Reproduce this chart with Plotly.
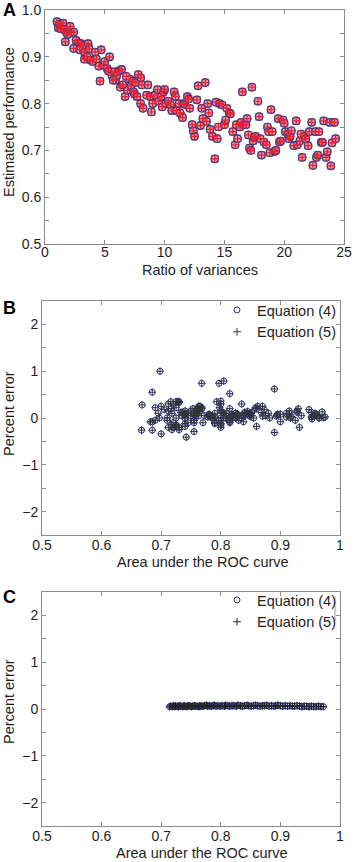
import plotly.graph_objects as go

# ---------------- Panel A data: ratio of variances vs estimated performance
ratio = [
    1.0, 1.1, 1.2, 1.4, 1.5, 1.3, 1.6, 1.8, 2.0, 2.1, 2.2, 1.9, 2.4, 1.7, 2.4,
    2.6, 2.8, 3.0, 3.2, 2.9, 3.3, 3.6, 3.7, 3.3, 3.5, 3.8, 4.0, 4.2, 4.3,
    4.5, 4.7, 4.6, 4.9, 5.0, 5.2, 5.4, 5.3, 5.6, 5.8, 5.9, 6.0, 5.7, 6.2, 6.3,
    6.4, 6.5, 6.7, 6.8, 6.9, 7.1, 7.2, 7.3, 7.4, 7.5, 7.6, 7.7, 7.8, 8.0, 8.1,
    8.0, 8.2, 8.5, 8.6, 8.8, 8.9, 9.0, 9.2, 9.4, 9.5, 9.7, 9.9, 10.0, 9.8, 10.1,
    10.3, 10.5, 10.6, 10.8, 10.9, 11.0, 11.2, 11.3, 11.5, 11.6, 11.7, 11.9, 12.0, 12.1, 12.3,
    12.4, 12.5, 12.7, 12.8, 13.0, 13.1, 13.2, 13.4, 13.5, 13.6, 13.7, 13.8, 14.0, 14.2, 14.3,
    14.4, 14.5, 14.6, 14.8, 15.0, 15.1, 15.2, 15.4, 15.5, 15.7, 15.9, 16.0, 16.1, 16.3, 16.4,
    16.5, 16.6, 16.8, 16.9, 17.0, 17.1, 17.2, 17.3, 17.4, 17.5, 17.6, 17.8, 17.9, 18.0, 18.1,
    18.3, 18.5, 18.6, 18.7, 18.8, 18.9, 19.0, 19.2, 19.3, 19.5, 19.6, 19.7, 19.9, 20.0, 20.1,
    20.3, 20.4, 20.5, 20.6, 20.8, 21.0, 21.1, 21.3, 21.4, 21.5, 21.7, 21.8, 22.0, 22.1, 22.3,
    22.4, 22.6, 22.7, 22.8, 22.9, 23.1, 23.2, 23.3, 23.5, 23.6, 23.8, 23.9, 24.0, 24.2, 24.3,
]
perf = [
    .975, .962, .970, .965, .972, .960, .958, .952, .955, .965, .952, .948, .953, .932, .918,
    .935, .930, .928, .925, .915, .910, .928, .917, .895, .900, .893, .890, .910, .895,
    .880, .915, .848, .882, .890, .875, .900, .870, .860, .868, .850, .860, .850, .870, .835,
    .873, .840, .815, .858, .828, .852, .838, .848, .825, .820, .845, .815, .862, .855, .840,
    .800, .790, .818, .840, .815, .782, .800, .818, .830, .805, .815, .825, .830, .793, .800,
    .805, .797, .785, .825, .815, .785, .800, .780, .770, .800, .798, .815, .810, .790, .755,
    .742, .730, .808, .838, .753, .790, .768, .845, .762, .800, .780, .745, .730, .682, .803,
    .725, .750, .800, .797, .755, .765, .790, .780, .778, .740, .712, .755, .725, .750, .760,
    .825, .755, .755, .768, .733, .705, .700, .835, .720, .728, .730, .805, .772, .725, .690,
    .718, .712, .750, .740, .695, .787, .740, .698, .700, .768, .718, .720, .765, .758, .740,
    .735, .725, .730, .742, .710, .763, .712, .720, .735, .685, .730, .725, .710, .740, .760,
    .668, .740, .685, .690, .740, .717, .717, .763, .685, .697, .760, .667, .716, .760, .725,
]

# ---------------- Panel B data: percent error vs AUC (AUC = estimated performance)
err_b = [
    .02, .05, .13, 0, .01, .08, .10, .02, .04, 0, .12, .18, -.02, -.20, .03,
    .05, .20, .15, -.05, .10, .02, .12, 0, .08, -.08, .04, -.31, .10, .06,
    .10, .15, .05, 0, .62, .05, .08, .04, -.18, .12, .03, .20, .10, .25, 0,
    .18, .05, -.05, .22, .08, .12, -.08, .10, .02, .06, .14, -.10, .25, 0, .10,
    .15, -.12, .03, .12, .52, .05, -.20, .08, -.05, 0, .20, .10, .06, .35, -.15,
    .79, .74, 0, .10, -.08, .05, -.12, .08, -.10, .36, .22, 0, .10, .02, -.05,
    -.41, -.20, 0, .05, .20, .10, .74, .10, .18, 0, .05, -.10, -.25, -.08, .12,
    -.15, .10, .30, -.05, -.29, .25, -.10, .06, .02, .15, .30, -.10, 0, .05, .20,
    0, .08, -.05, .22, .12, .18, -.34, .30, -.20, .35, .35, .10, .05, -.18, .22,
    -.25, -.20, .15, 0, .10, 0, -.12, 1.0, .25, .20, .10, .30, .15, .05, .08,
    .05, -.15, .33, .10, 0, .25, .15, -.10, .12, -.26, -.20, .35, -.05, 0, .10,
    .28, -.18, .55, -.05, .08, .20, -.15, .05, -.08, 0, .10, -.26, .35, .18, .22,
]

# ---------------- Panel C data: percent error vs AUC
auc_c = [
    .714, .716, .719, .721, .723, .724, .727, .729, .731, .733, .736, .738, .739, .742,
    .744, .746, .749, .751, .753, .756, .757, .760, .763, .765, .767, .770, .773, .776,
    .778, .781, .784, .787, .789, .792, .795, .799, .802, .806, .808, .812, .815, .819,
    .822, .826, .829, .833, .836, .840, .844, .847, .851, .855, .858, .862, .866, .870,
    .873, .877, .881, .885, .889, .892, .896, .900, .904, .908, .912, .916, .920, .924,
    .928, .932, .936, .940, .944, .948, .952, .956, .960, .964, .968, .972,
]
err_c = [
    .05, .06, .05, .07, .05, .06, .06, .05, .07, .06, .05, .06, .07, .05,
    .06, .07, .06, .05, .06, .07, .06, .06, .05, .07, .06, .06, .07, .08,
    .06, .07, .06, .07, .08, .06, .07, .06, .07, .06, .08, .07, .06, .07,
    .07, .06, .08, .07, .06, .07, .08, .07, .06, .07, .08, .07, .06, .07,
    .07, .08, .06, .07, .06, .07, .08, .07, .06, .07, .06, .07, .06, .06,
    .07, .06, .05, .06, .06, .05, .06, .05, .05, .06, .05, .05,
]

W, H = 355, 862
NAVY = "#2e2e8c"
RED = "#e8202a"
AXC = "#8c8c8c"
TXT = "#1e1e1e"
FONT = "Liberation Sans, Arial, sans-serif"
TICK_FS = 14
TITLE_FS = 14.5


def xd(l, r):
    return [l / W, r / W]


def yd(top, bot):
    return [1 - bot / H, 1 - top / H]


fig = go.Figure()

# Panel A
fig.add_trace(go.Scatter(x=ratio, y=perf, mode="markers", xaxis="x", yaxis="y", showlegend=False,
                         marker=dict(symbol="square-open", size=7, color="#8a8a8a", line=dict(width=1))))
fig.add_trace(go.Scatter(x=ratio, y=perf, mode="markers", xaxis="x", yaxis="y", showlegend=False,
                         marker=dict(symbol="circle", size=7.5, color="rgba(245,120,135,0.75)",
                                     line=dict(width=1.2, color=NAVY))))
fig.add_trace(go.Scatter(x=ratio, y=perf, mode="markers", xaxis="x", yaxis="y", showlegend=False,
                         marker=dict(symbol="cross-thin-open", size=6, color=RED, line=dict(width=1.2, color=RED))))

# Panel B
fig.add_trace(go.Scatter(x=perf, y=err_b, mode="markers", xaxis="x2", yaxis="y2", name="Equation (4)",
                         legend="legend",
                         marker=dict(symbol="circle-open", size=6, color=NAVY, line=dict(width=1, color=NAVY))))
fig.add_trace(go.Scatter(x=perf, y=err_b, mode="markers", xaxis="x2", yaxis="y2", name="Equation (5)",
                         legend="legend",
                         marker=dict(symbol="cross-thin-open", size=5.5, color="#333333",
                                     line=dict(width=1, color="#333333"))))

# Panel C
fig.add_trace(go.Scatter(x=auc_c, y=err_c, mode="markers", xaxis="x3", yaxis="y3", name="Equation (4)",
                         legend="legend2",
                         marker=dict(symbol="circle-open", size=6, color=NAVY, line=dict(width=1, color=NAVY))))
fig.add_trace(go.Scatter(x=auc_c, y=err_c, mode="markers", xaxis="x3", yaxis="y3", name="Equation (5)",
                         legend="legend2",
                         marker=dict(symbol="cross-thin-open", size=5.5, color="#222222",
                                     line=dict(width=1, color="#222222"))))

axis_common = dict(showline=True, mirror="ticks", linecolor=AXC, linewidth=1,
                   ticks="inside", ticklen=4, tickcolor=AXC, showgrid=False, zeroline=False,
                   ticklabeloverflow="allow", automargin=False,
                   tickfont=dict(size=TICK_FS, color=TXT, family=FONT))
minor_common = dict(ticks="inside", ticklen=4, tickcolor=AXC)

legend_common = dict(bgcolor="rgba(0,0,0,0)", font=dict(size=TITLE_FS, family=FONT, color=TXT),
                     tracegroupgap=0, itemwidth=30, xanchor="left", yanchor="top")

fig.update_layout(
    width=W, height=H, margin=dict(l=0, r=0, t=0, b=0, pad=0, autoexpand=False), autosize=False,
    paper_bgcolor="white", plot_bgcolor="white",
    font=dict(family=FONT, size=TICK_FS, color=TXT),
    xaxis=dict(domain=xd(45, 344), range=[0, 25], tickvals=[0, 5, 10, 15, 20, 25], anchor="y",
               ticklabelstandoff=-5, **axis_common),
    yaxis=dict(domain=yd(10, 244), range=[0.5, 1.0], tickvals=[0.5, 0.6, 0.7, 0.8, 0.9, 1.0],
               ticktext=["0.5", "0.6", "0.7", "0.8", "0.9", "1.0"],
               minor=dict(dtick=0.05, **minor_common), anchor="x", **axis_common),
    xaxis2=dict(domain=xd(42, 340), range=[0.5, 1.0], tickvals=[0.5, 0.6, 0.7, 0.8, 0.9, 1.0],
                ticktext=["0.5", "0.6", "0.7", "0.8", "0.9", "1"], anchor="y2",
                ticklabelstandoff=-3, **axis_common),
    yaxis2=dict(domain=yd(301, 535), range=[-2.5, 2.5], tickvals=[-2, -1, 0, 1, 2],
                minor=dict(dtick=0.5, **minor_common), anchor="x2", **axis_common),
    xaxis3=dict(domain=xd(42, 340), range=[0.5, 1.0], tickvals=[0.5, 0.6, 0.7, 0.8, 0.9, 1.0],
                ticktext=["0.5", "0.6", "0.7", "0.8", "0.9", "1"], anchor="y3",
                ticklabelstandoff=-3, **axis_common),
    yaxis3=dict(domain=yd(592, 826), range=[-2.5, 2.5], tickvals=[-2, -1, 0, 1, 2],
                minor=dict(dtick=0.5, **minor_common), anchor="x3", **axis_common),
    legend=dict(x=217 / W, y=1 - 294 / H, **legend_common),
    legend2=dict(x=217 / W, y=1 - 584 / H, **legend_common),
)

# panel letters
for letter, yc in [("A", 10), ("B", 308), ("C", 597)]:
    fig.add_annotation(text="<b>%s</b>" % letter, x=1 / W, y=1 - yc / H, xref="paper", yref="paper",
                       xanchor="left", yanchor="middle", showarrow=False,
                       font=dict(size=18, family=FONT, color="black"))

# axis titles (placed as text at the reference positions)
titles = [
    ("Ratio of variances", 200, 270, 0),
    ("Estimated performance", 9, 122, -90),
    ("Area under the ROC curve", 203, 562, 0),
    ("Percent error", 9, 414, -90),
    ("Area under the ROC curve", 202, 853, 0),
    ("Percent error", 9, 702, -90),
]
for txt, xc, yc, ang in titles:
    fig.add_annotation(text=txt, x=xc / W, y=1 - yc / H, xref="paper", yref="paper",
                       xanchor="center", yanchor="middle", showarrow=False, textangle=ang,
                       font=dict(size=TITLE_FS, family=FONT, color=TXT))

# small leftover legend-box edge seen in panel C
fig.add_shape(type="line", xref="paper", yref="paper", x0=335 / W, x1=335 / W,
              y0=1 - 597 / H, y1=1 - 621 / H, line=dict(color="#9a9a9a", width=1))

fig.write_html("out.html", config={"displayModeBar": False},
               post_script="document.documentElement.style.margin='0';"
                           "document.body.style.margin='0';document.body.style.padding='0';"
                           "document.body.style.overflow='hidden';")
